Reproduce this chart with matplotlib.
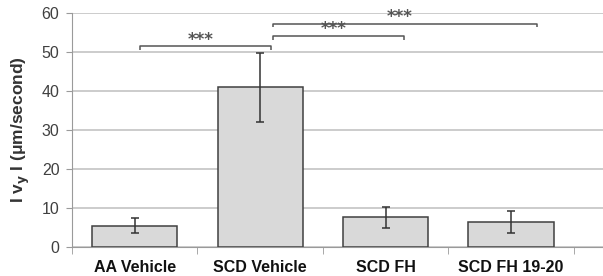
import matplotlib
matplotlib.use("Agg")
import matplotlib.pyplot as plt
import numpy as np

categories = ["AA Vehicle", "SCD Vehicle", "SCD FH", "SCD FH 19-20"]
means = [5.5, 40.9, 7.6, 6.4]
errors = [2.0, 8.8, 2.7, 2.9]

# significance brackets
brk_left = [0.04, 1.10, 1.10]
brk_right = [1.09, 2.15, 3.21]
brk_height = [51.6, 54.2, 57.3]
brk_label = ["***", "***", "***"]

plt.rcParams["font.family"] = ["Liberation Sans", "DejaVu Sans"]

fig = plt.figure(figsize=(6.03, 2.76), dpi=100)
ax = fig.add_axes([72 / 603, 29 / 276, 1 - 72 / 603, 234 / 276])

x = np.arange(len(categories))
ax.bar(x, means, width=0.68, color="#d9d9d9", edgecolor="#404040",
       linewidth=1.1, zorder=3)
ax.errorbar(x, means, yerr=errors, fmt="none", ecolor="#333333",
            elinewidth=1.1, capsize=2.8, capthick=1.1, zorder=4)

for xl, xr, h, lab in zip(brk_left, brk_right, brk_height, brk_label):
    ax.plot([xl, xl, xr, xr], [h - 1.0, h, h, h - 1.0], color="#555555",
            lw=1.1, solid_capstyle="butt", zorder=5)
    ax.text((xl + xr) / 2 - 0.04, h + 1.6, lab, ha="center", va="center",
            fontsize=12, fontweight="bold", family="DejaVu Sans",
            color="#555555", zorder=5)

ax.set_xlim(-0.5, 3.733)
ax.set_ylim(0, 60)
ax.set_yticks(np.arange(0, 61, 10))
ax.tick_params(axis="y", labelsize=11.5, labelcolor="#404040", length=4,
               color="#9a9a9a", pad=5)
ax.set_xticks(x)
ax.set_xticklabels(categories, fontsize=11.5, fontweight="bold", color="#111111")
ax.tick_params(axis="x", length=0, pad=9)
ax.set_xticks(np.arange(-0.5, 4.0, 1.0), minor=True)
ax.tick_params(axis="x", which="minor", length=5, color="#9a9a9a")

ax.grid(axis="y", color="#c4c4c4", linewidth=1.2, zorder=0)
for s in ["top", "right"]:
    ax.spines[s].set_visible(False)
ax.spines["left"].set_color("#9a9a9a")
ax.spines["bottom"].set_color("#9a9a9a")

ax.set_ylabel("I v$_\\mathbf{y}$ I (\u03bcm/second)", fontsize=12.5,
              fontweight="bold", color="#333333", labelpad=7)

fig.savefig("out.png", dpi=100)
